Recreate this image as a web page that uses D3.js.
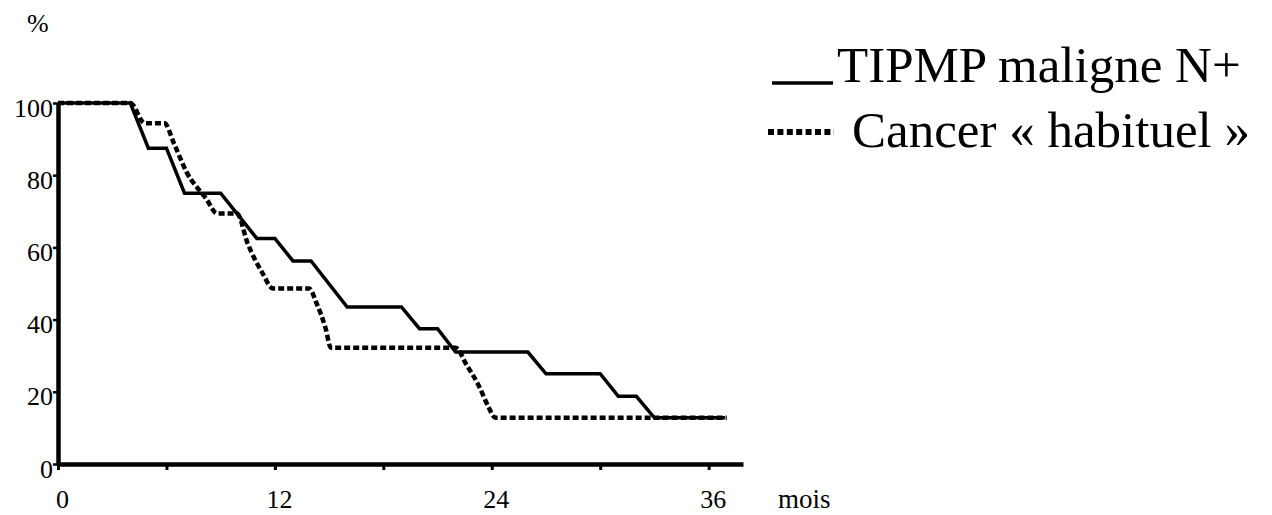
<!DOCTYPE html>
<html>
<head>
<meta charset="utf-8">
<script src="https://cdn.jsdelivr.net/npm/d3@7"></script>
<style>
  body { margin: 0; background: #fff; }
  svg { display: block; }
  text { font-family: "Liberation Serif", "Times New Roman", serif; fill: #000; }
</style>
</head>
<body>
<div id="chart"></div>
<script>
// Survival curves: [mois, %]
var tipmpN = [[0,100],[4,100],[5,87.5],[6,87.5],[7,75],[9,75],[11,62.5],[12,62.5],
              [13,56.25],[14,56.25],[16,43.5],[19,43.5],[20,37.5],[21,37.5],[22,31],
              [26,31],[27,25],[30,25],[31,18.75],[32,18.75],[33,12.8],[36.9,12.8]];
var cancerHab = [[0,100],[4,100],[4.8,94.4],[5.9,94.4],[6.4,89],[7.1,81],[8.2,73.5],
                 [8.8,69.4],[9.9,69.4],[10.5,61],[11.3,53],[11.9,48.6],[13.9,48.6],
                 [14.3,44.6],[14.8,37.7],[15.1,32.2],[22,32.2],[22.6,27.5],[23.3,21.5],
                 [23.8,16],[24.2,12.8],[37,12.8]];

var yTicks = [0, 20, 40, 60, 80, 100];
var xTicks = [0, 6, 12, 18, 24, 30, 36];
var xLabels = [0, 12, 24, 36];
var legendLabels = ["TIPMP maligne N+", "Cancer \u00ab habituel \u00bb"];

var width = 1272, height = 515;

var svg = d3.select('#chart').append('svg')
    .attr('width', width).attr('height', height);

var x = d3.scaleLinear().domain([0, 37.9]).range([58, 743]);
var y = d3.scaleLinear().domain([0, 100]).range([464, 103]);

// y axis
var gy = svg.append('g')
    .attr('transform', 'translate(' + x(0) + ',0)')
    .call(d3.axisLeft(y).tickValues(yTicks).tickSize(5).tickSizeOuter(0).tickPadding(2));
gy.select('.domain').attr('stroke', '#000').attr('stroke-width', 4.5);
gy.selectAll('.tick line').attr('stroke', '#000').attr('stroke-width', 2.5);
gy.selectAll('.tick text')
    .attr('font-size', 26).attr('font-family', '"Liberation Serif", serif')
    .attr('x', -5).attr('dy', 13);

// x axis
var gx = svg.append('g')
    .attr('transform', 'translate(0,' + y(0) + ')')
    .call(d3.axisBottom(x).tickValues(xTicks).tickSize(6).tickSizeOuter(0)
        .tickFormat(function (d) { return xLabels.indexOf(d) >= 0 ? d : ''; }));
gx.select('.domain').attr('stroke', '#000').attr('stroke-width', 4.5);
gx.selectAll('.tick line').attr('stroke', '#000').attr('stroke-width', 3);
gx.selectAll('.tick text')
    .attr('font-size', 26).attr('font-family', '"Liberation Serif", serif')
    .attr('x', 4).attr('y', 44).attr('dy', 0);

// axis titles
svg.append('text').attr('x', 27).attr('y', 32).attr('font-size', 26).text('%');
svg.append('text').attr('x', 778).attr('y', 508).attr('font-size', 27).text('mois');

// curves
var line = d3.line()
    .x(function (d) { return x(d[0]); })
    .y(function (d) { return y(d[1]); });

svg.append('path')
    .datum(cancerHab)
    .attr('fill', 'none')
    .attr('stroke', '#000')
    .attr('stroke-width', 4.5)
    .attr('stroke-dasharray', '6,3')
    .attr('d', line.curve(d3.curveMonotoneX));

svg.append('path')
    .datum(tipmpN)
    .attr('fill', 'none')
    .attr('stroke', '#000')
    .attr('stroke-width', 3.5)
    .attr('d', line.curve(d3.curveLinear));

// legend
var legend = svg.append('g');
legend.append('line')
    .attr('x1', 772).attr('x2', 833).attr('y1', 83).attr('y2', 83)
    .attr('stroke', '#000').attr('stroke-width', 3.5);
legend.append('line')
    .attr('x1', 768).attr('x2', 834).attr('y1', 132).attr('y2', 132)
    .attr('stroke', '#000').attr('stroke-width', 6).attr('stroke-dasharray', '6,3.4');
legend.append('text').attr('x', 837).attr('y', 82).attr('font-size', 51).text(legendLabels[0]);
legend.append('text').attr('x', 852).attr('y', 147).attr('font-size', 51).text(legendLabels[1]);
</script>
</body>
</html>
